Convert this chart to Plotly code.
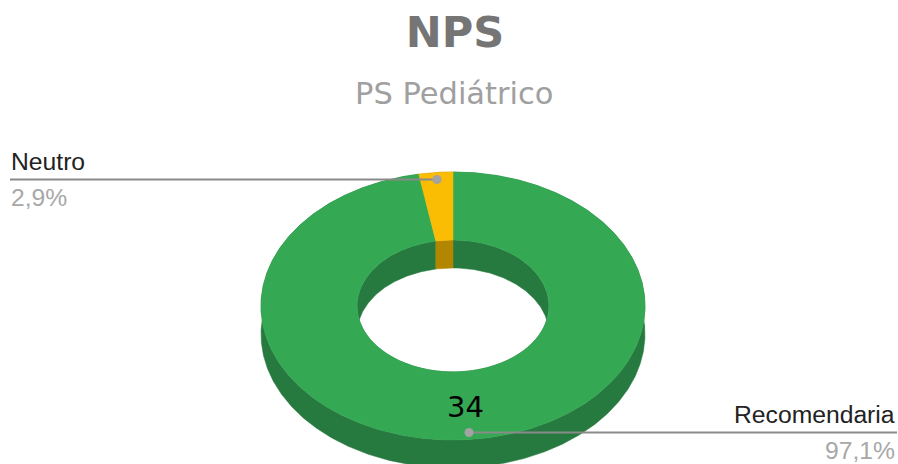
import numpy as np
import plotly.graph_objects as go

categories = ["Neutro", "Recomendaria"]
values = [1, 34]
top_colors = ["#fbbc04", "#34a853"]
wall_colors = ["#b38600", "#277a3f"]
title_text = "NPS"
subtitle_text = "PS Pediátrico"

W, H = 898, 464
CX, CY = 453, 306
RX, RY = 192, 134
IRX, IRY = 96, 66
DEPTH = 28

total = sum(values)
fracs = [v / total for v in values]
starts = [-fracs[0] * 360, 0]
spans = [f * 360 for f in fracs]


def arc(a0, a1, rx, ry, dy=0):
    t = np.radians(np.linspace(a0, a1, max(int(abs(a1 - a0) * 2), 8)))
    return CX + rx * np.sin(t), CY - ry * np.cos(t) + dy


fig = go.Figure()


def poly(x, y, color):
    fig.add_trace(go.Scatter(x=np.r_[x, x[0]], y=np.r_[y, y[0]], mode="lines", fill="toself",
                             fillcolor=color, line=dict(width=0.5, color=color),
                             hoverinfo="skip", showlegend=False))


def band(a0, a1, r1, r2, dy1, dy2, color):
    x1, y1 = arc(a0, a1, r1[0], r1[1], dy1)
    x2, y2 = arc(a0, a1, r2[0], r2[1], dy2)
    poly(np.r_[x1, x2[::-1]], np.r_[y1, y2[::-1]], color)


order = [1, 0]
# side walls
for i in order:
    a0, a1 = starts[i], starts[i] + spans[i]
    band(a0, a1, (RX, RY), (RX, RY), 0, DEPTH, wall_colors[i])
    band(a0, a1, (IRX, IRY), (IRX, IRY), 0, DEPTH, wall_colors[i])
# top faces
for i in order:
    a0, a1 = starts[i], starts[i] + spans[i]
    band(a0, a1, (RX, RY), (IRX, IRY), 0, 0, top_colors[i])

# leader lines and labels
LINE = "#8a8a8a"
ann = []
for i, cat in enumerate(categories):
    mid = np.radians(starts[i] + spans[i] / 2)
    px = CX + RX * 0.93 * np.sin(mid)
    py = CY - RY * 0.948 * np.cos(mid)
    left = px < CX
    end = 10 if left else 897
    fig.add_trace(go.Scatter(x=[end, px], y=[py, py], mode="lines", line=dict(color=LINE, width=2),
                             hoverinfo="skip", showlegend=False))
    fig.add_trace(go.Scatter(x=[px], y=[py], mode="markers", marker=dict(color="#a3a3a3", size=9),
                             hovertemplate=f"{cat}: {values[i]}<extra></extra>", showlegend=False))
    anchor = "left" if left else "right"
    pct = f"{fracs[i] * 100:.1f}%".replace(".", ",")
    ax = end + (-1 if left else 0)
    ann.append(dict(x=ax, y=py - 18, text=cat, xanchor=anchor, yanchor="middle", showarrow=False,
                    font=dict(family="Liberation Sans", size=24.7, color="#222222")))
    ann.append(dict(x=ax, y=py + 18, text=pct, xanchor=anchor, yanchor="middle", showarrow=False,
                    font=dict(family="Liberation Sans", size=24.7, color="#a8a8a8")))

ann.append(dict(x=465.5, y=407, text=str(values[1]), xanchor="center", yanchor="middle", showarrow=False,
                font=dict(family="DejaVu Sans", size=29, color="#000000")))
ann.append(dict(x=453.5, y=93, text=subtitle_text, xanchor="center", yanchor="middle", showarrow=False,
                font=dict(family="DejaVu Sans", size=30.5, color="#a0a0a0")))

fig.update_layout(
    width=W, height=H, margin=dict(l=0, r=0, t=0, b=0),
    paper_bgcolor="white", plot_bgcolor="white", showlegend=False,
    title=dict(text=f"<b>{title_text}</b>", x=0.5067, xanchor="center", y=1 - 32 / H, yanchor="middle",
               font=dict(family="DejaVu Sans", size=43, color="#757575")),
    xaxis=dict(range=[0, W], visible=False, fixedrange=True),
    yaxis=dict(range=[H, 0], visible=False, fixedrange=True),
    annotations=ann,
)
fig.write_html("out.html", config=dict(displayModeBar=False),
               post_script="document.body.style.margin='0';document.body.style.overflow='hidden';")
